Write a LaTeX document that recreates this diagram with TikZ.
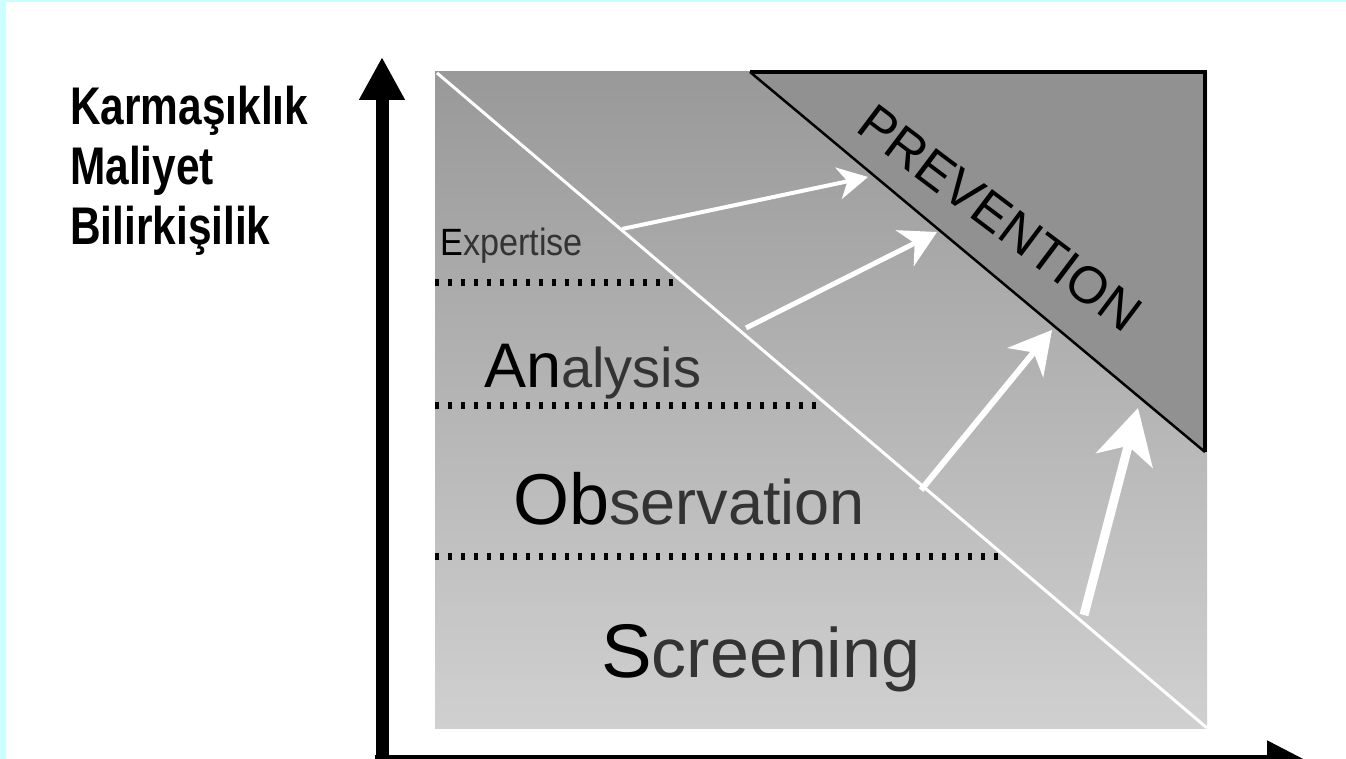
\documentclass[tikz,border=0pt]{standalone}
\usepackage{fontspec}
\setmainfont{Liberation Sans}
\newfontfamily\narrowsans[FakeStretch=0.8]{Liberation Sans}
\newfontfamily\slimsans[FakeStretch=0.9]{Liberation Sans}
\usetikzlibrary{arrows.meta}
\definecolor{framecyan}{HTML}{CCFFFF}
\definecolor{paneltop}{HTML}{999999}
\definecolor{panelbottom}{HTML}{D0D0D0}
\definecolor{wedgegray}{HTML}{919191}
\definecolor{textgray}{HTML}{333333}
\newcommand{\fsz}[1]{\fontsize{#1}{#1}\selectfont}
\tikzset{
  axisline/.style={line width=13pt, black},
  levelrule/.style={line width=7pt, black, dash pattern=on 3.5pt off 9.5pt},
  flowarrow/.style={white, line width=#1},
  txt/.style={inner sep=0pt, anchor=base west},
  sidelabel/.style={txt, font=\narrowsans\bfseries\fsz{53}}
}
\begin{document}
\begin{tikzpicture}[x=1pt, y=-1pt]
  \useasboundingbox (0,0) rectangle (1346,759);
  \fill[white] (0,0) rectangle (1346,759);
  % thin cyan frame on the left and top
  \fill[framecyan] (0,0) rectangle (6,759);
  \fill[framecyan] (0,0) rectangle (1346,2);

  % shaded panel
  \shade[top color=paneltop, bottom color=panelbottom] (435,72) rectangle (1207,728);

  % prevention wedge
  \coordinate (wa) at (750,72);
  \coordinate (wb) at (1205,72);
  \coordinate (wc) at (1205,452);
  \fill[wedgegray] (wa) -- (wb) -- (wc) -- cycle;
  \draw[line width=3.5pt] (wa) -- (wb) -- (wc);
  \draw[line width=2.5pt] (wa) -- (wc);

  % diagonal boundary
  \coordinate (da) at (437,73);
  \coordinate (db) at (1207,728);
  \draw[white, line width=3pt] (da) -- (db);

  % level separators
  \coordinate (r1a) at (435,283); \coordinate (r1b) at (681,283);
  \coordinate (r2a) at (435,405); \coordinate (r2b) at (824,405);
  \coordinate (r3a) at (435,556); \coordinate (r3b) at (1000,556);
  \draw[levelrule] (r1a) -- (r1b);
  \draw[levelrule] (r2a) -- (r2b);
  \draw[levelrule] (r3a) -- (r3b);

  % level names
  \node[txt, font=\slimsans\fsz{38}] (expertise) at (440,256)
    {E{\color{textgray}xpertise}};
  \node[txt] (analysis) at (484,387)
    {{\fsz{63}An}{\color{textgray}\fsz{56}alysis}};
  \node[txt] (observation) at (513,524)
    {{\fsz{72}Ob}{\color{textgray}\fsz{63}servation}};
  \node[txt] (screening) at (601,677)
    {{\fsz{76}S}{\color{textgray}\fsz{70}creening}};

  \node[font=\fsz{52}, rotate=-37, inner sep=0pt] (prevention) at (1000,218) {PREVENTION};

  % arrows from the boundary to the wedge
  \coordinate (a1s) at (622,229); \coordinate (a1e) at (868,177);
  \coordinate (a2s) at (746,328); \coordinate (a2e) at (937,232);
  \coordinate (a3s) at (921,490); \coordinate (a3e) at (1052,330);
  \coordinate (a4s) at (1084,615); \coordinate (a4e) at (1138,408);
  \draw[flowarrow=4pt, -{Stealth[length=30pt, width=32pt, inset=9pt]}] (a1s) -- (a1e);
  \draw[flowarrow=5pt, -{Stealth[length=36pt, width=40pt, inset=11pt]}] (a2s) -- (a2e);
  \draw[flowarrow=6pt, -{Stealth[length=42pt, width=46pt, inset=13pt]}] (a3s) -- (a3e);
  \draw[flowarrow=9pt, -{Stealth[length=54pt, width=58pt, inset=15pt]}] (a4s) -- (a4e);

  % axes
  \coordinate (origin) at (382,770);
  \coordinate (ytip) at (382,57);
  \coordinate (xstart) at (375,762);
  \coordinate (xtip) at (1310,762);
  \draw[axisline, -{Triangle[length=43pt, width=43pt]}] (origin) -- (ytip);
  \draw[axisline, line width=14pt, -{Triangle[length=43pt, width=40pt]}] (xstart) -- (xtip);

  % axis caption
  \node[sidelabel] (k1) at (70,125) {Karmaşıklık};
  \node[sidelabel] (k2) at (70,185) {Maliyet};
  \node[sidelabel] (k3) at (70,245) {Bilirkişilik};
\end{tikzpicture}
\end{document}
